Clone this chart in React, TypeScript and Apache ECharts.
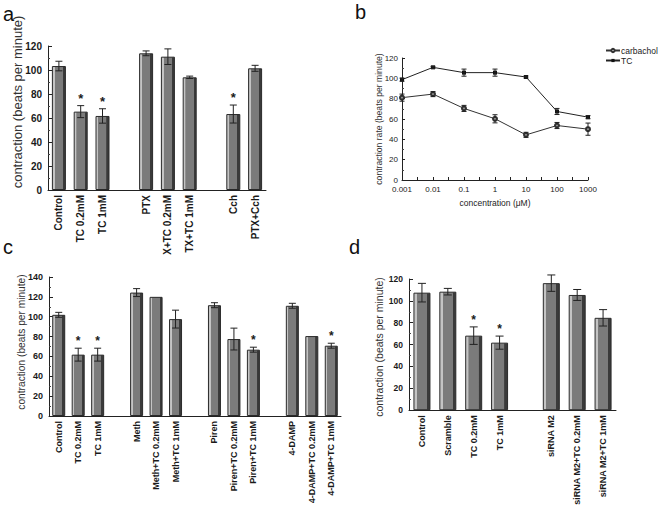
import React, { useEffect, useRef } from 'react';
import * as echarts from 'echarts';

// ---------- data ----------
const aCategories = ['Control', 'TC 0.2mM', 'TC 1mM', '', 'PTX', 'X+TC 0.2mM', 'TX+TC 1mM', '', 'Cch', 'PTX+Cch'];
const aValues = [103.3, 65.3, 61.7, null, 113.9, 111.1, 93.9, null, 63.3, 101.4];
const aErrors = [4, 5, 6, null, 2, 6.5, 1, null, 7.5, 2.5];
const aSignificant = [0, 1, 1, 0, 0, 0, 0, 0, 1, 0];

const bConcentrations = [0.001, 0.01, 0.1, 1, 10, 100, 1000];
const bCarbachol = [81, 84.5, 70.4, 60.2, 44.4, 53.6, 50];
const bCarbacholErr = [3.5, 2.5, 3, 4, 2.5, 3, 6];
const bTC = [98.7, 110.8, 105.6, 105.6, 101.3, 67.4, 61.8];
const bTCErr = [1.5, 1, 3.5, 3.5, 1, 3, 1.5];

const cCategories = ['Control', 'TC 0.2mM', 'TC 1mM', '', 'Meth', 'Meth+TC 0.2mM', 'Meth+TC 1mM', '', 'Piren', 'Piren+TC 0.2mM', 'Piren+TC 1mM', '', '4-DAMP', '4-DAMP+TC 0.2mM', '4-DAMP+TC 1mM'];
const cValues = [101.9, 61.8, 61.8, null, 124.3, 120, 97.6, null, 111.6, 77.5, 66.8, null, 111, 80.5, 70.8];
const cErrors = [2.5, 6.5, 6.5, null, 4, 0, 9, null, 2.5, 11, 2.5, null, 2.5, 0, 2.5];
const cSignificant = [0, 1, 1, 0, 0, 0, 0, 0, 0, 0, 1, 0, 0, 0, 1];

const dCategories = ['Control', 'Scramble', 'TC 0.2mM', 'TC 1mM', '', 'siRNA M2', 'siRNA M2+TC 0.2mM', 'siRNA M2+TC 1mM'];
const dValues = [107.5, 108.4, 68.2, 61.8, null, 116.2, 105.4, 84.5];
const dErrors = [8.5, 3, 8, 6, null, 7.5, 5, 7.5];
const dSignificant = [0, 0, 1, 1, 0, 0, 0, 0];

const yNameText = 'contraction (beats per minute)';
const bYNameText = 'contraction rate (beats per minute)';
const bXNameText = 'concentration (\u03bcM)';

const FONT = '"Liberation Sans", Arial, Helvetica, sans-serif';
const INK = '#1a1a1a';

function barFill() {
  return new echarts.graphic.LinearGradient(0, 0, 1, 0, [
    { offset: 0, color: '#c4c4c4' },
    { offset: 0.17, color: '#c4c4c4' },
    { offset: 0.18, color: '#7b7b7b' },
    { offset: 0.8, color: '#7b7b7b' },
    { offset: 0.81, color: '#3a3a3a' },
    { offset: 1, color: '#3a3a3a' },
  ]);
}

function errRender(capW: number, starSize: number) {
  return (params: any, api: any) => {
    const x = api.value(0);
    const v = api.value(1);
    const e = api.value(2);
    const s = api.value(3);
    const top = api.coord([x, v + e]);
    const bot = api.coord([x, v - e]);
    const st = { stroke: '#222', lineWidth: 1 };
    const children: any[] = [];
    if (e > 0) {
      children.push({ type: 'line', shape: { x1: top[0], y1: top[1], x2: bot[0], y2: bot[1] }, style: st });
      children.push({ type: 'line', shape: { x1: top[0] - capW / 2, y1: top[1], x2: top[0] + capW / 2, y2: top[1] }, style: st });
      children.push({ type: 'line', shape: { x1: bot[0] - capW / 2, y1: bot[1], x2: bot[0] + capW / 2, y2: bot[1] }, style: st });
    }
    if (s) {
      children.push({
        type: 'text',
        style: {
          text: '*', x: top[0], y: top[1] - 1, textAlign: 'center', textVerticalAlign: 'bottom',
          font: `bold ${starSize}px ${FONT}`, fill: INK,
        },
      });
    }
    return { type: 'group', children };
  };
}

function barPanel(idx: number, vals: (number | null)[], errs: (number | null)[], sig: number[], barW: number, capW: number, starSize: number) {
  return [
    {
      type: 'bar', xAxisIndex: idx, yAxisIndex: idx, barWidth: barW,
      data: vals.map((v) => (v == null ? '-' : v)),
      itemStyle: { color: barFill(), borderColor: '#2a2a2a', borderWidth: 1 },
      silent: true,
    },
    {
      type: 'custom', xAxisIndex: idx, yAxisIndex: idx,
      renderItem: errRender(capW, starSize),
      encode: { x: 0, y: 1 },
      data: vals.map((v, i) => (v == null ? null : [i, v, errs[i], sig[i]])).filter((d) => d != null),
      z: 5, silent: true,
    },
  ];
}

function catAxis(idx: number, cats: string[], fontSize: number) {
  return {
    type: 'category', gridIndex: idx, data: cats,
    axisLine: { show: true, lineStyle: { color: '#222', width: 1 } },
    axisTick: { show: false },
    axisLabel: { interval: 0, rotate: 90, margin: 5, fontSize, fontWeight: 'bold', fontFamily: FONT, color: INK },
    splitLine: { show: false },
  };
}

function valAxis(idx: number, max: number, fontSize: number) {
  return {
    type: 'value', gridIndex: idx, min: 0, max, interval: 20,
    axisLine: { show: true, lineStyle: { color: '#222', width: 1 } },
    axisTick: { show: true, inside: true, length: 4, lineStyle: { color: '#222' } },
    minorTick: { show: true, splitNumber: 2, length: 2, lineStyle: { color: '#444' } },
    axisLabel: { fontSize, fontWeight: 'bold', fontFamily: FONT, color: INK, margin: 6 },
    splitLine: { show: false },
  };
}

function vText(text: string, x: number, y: number, size: number) {
  return {
    type: 'text', x, y, rotation: Math.PI / 2,
    style: { text, textAlign: 'center', textVerticalAlign: 'middle', font: `${size}px ${FONT}`, fill: '#333' },
  };
}

function letter(text: string, x: number, y: number) {
  return { type: 'text', x, y, style: { text, textAlign: 'left', textVerticalAlign: 'bottom', font: `20px ${FONT}`, fill: '#111' } };
}

export default function App() {
  const ref = useRef<HTMLDivElement>(null);
  useEffect(() => {
    if (!ref.current) return;
    const chart = echarts.init(ref.current, null, { renderer: 'svg' });
    const fmtLog = (v: number) => String(parseFloat(v.toPrecision(6)));
    const option: any = {
      animation: false,
      backgroundColor: '#ffffff',
      grid: [
        { left: 48, top: 46, width: 218, height: 144 },
        { left: 402, top: 58, width: 186, height: 122 },
        { left: 49, top: 277, width: 292, height: 139 },
        { left: 409, top: 279, width: 207, height: 137 },
      ],
      xAxis: [
        catAxis(0, aCategories, 10),
        {
          type: 'log', gridIndex: 1, logBase: 10, min: 0.001, max: 1000, position: 'bottom',
          axisLine: { show: true, onZero: false, lineStyle: { color: '#222', width: 1 } },
          axisTick: { show: false },
          axisLabel: { fontSize: 8, fontFamily: FONT, color: '#222', margin: 5, formatter: fmtLog },
          splitLine: { show: false },
          name: bXNameText, nameLocation: 'middle', nameGap: 18,
          nameTextStyle: { fontSize: 8.5, fontFamily: FONT, color: '#222' },
        },
        catAxis(2, cCategories, 9),
        catAxis(3, dCategories, 9),
        {
          type: 'value', gridIndex: 1, min: -3, max: 3, interval: 0.5, position: 'bottom', offset: 0,
          axisLine: { show: false, onZero: false },
          axisTick: { show: true, inside: true, length: 3, lineStyle: { color: '#222' } },
          axisLabel: { show: false },
          splitLine: { show: false },
        },
      ],
      yAxis: [
        valAxis(0, 120, 10),
        {
          type: 'value', gridIndex: 1, min: 0, max: 120, interval: 20, position: 'left',
          axisLine: { show: true, onZero: false, lineStyle: { color: '#222', width: 1 } },
          axisTick: { show: true, inside: true, length: 3, lineStyle: { color: '#222' } },
          minorTick: { show: true, splitNumber: 2, length: 2, lineStyle: { color: '#444' } },
          axisLabel: { fontSize: 8, fontFamily: FONT, color: '#222', margin: 4 },
          splitLine: { show: false },
        },
        valAxis(2, 140, 9),
        valAxis(3, 120, 8.5),
      ],
      legend: {
        data: ['carbachol', 'TC'], orient: 'vertical', left: 603, top: 44,
        itemWidth: 14, itemHeight: 4, itemGap: 1, padding: 2,
        textStyle: { fontSize: 8.5, fontFamily: FONT, color: '#222', padding: [0, 0, 0, -4] },
      },
      series: [
        ...barPanel(0, aValues, aErrors, aSignificant, 14, 7, 13),
        ...barPanel(2, cValues, cErrors, cSignificant, 13, 7, 12),
        ...barPanel(3, dValues, dErrors, dSignificant, 17, 8, 12),
        {
          name: 'carbachol', type: 'line', xAxisIndex: 1, yAxisIndex: 1,
          data: bConcentrations.map((c, i) => [c, bCarbachol[i]]),
          symbol: 'emptyCircle', symbolSize: 4, showAllSymbol: true,
          lineStyle: { color: '#333', width: 1 }, itemStyle: { color: '#333', borderColor: '#333', borderWidth: 1 },
        },
        {
          name: 'TC', type: 'line', xAxisIndex: 1, yAxisIndex: 1,
          data: bConcentrations.map((c, i) => [c, bTC[i]]),
          symbol: 'rect', symbolSize: 4, showAllSymbol: true,
          lineStyle: { color: '#222', width: 1 }, itemStyle: { color: '#111' },
        },
        {
          type: 'custom', xAxisIndex: 1, yAxisIndex: 1, renderItem: errRender(5, 10), encode: { x: 0, y: 1 },
          data: bConcentrations.map((c, i) => [c, bCarbachol[i], bCarbacholErr[i], 0]), z: 5, silent: true,
        },
        {
          type: 'custom', xAxisIndex: 1, yAxisIndex: 1, renderItem: errRender(5, 10), encode: { x: 0, y: 1 },
          data: bConcentrations.map((c, i) => [c, bTC[i], bTCErr[i], 0]), z: 5, silent: true,
        },
      ],
      graphic: [
        vText(yNameText, 17, 102, 13),
        vText(bYNameText, 379, 119, 8.6),
        vText(yNameText, 21, 342, 10.2),
        vText(yNameText, 379, 347, 10.5),
        letter('a', 3, 24),
        letter('b', 355, 22),
        letter('c', 3, 257),
        letter('d', 349, 257),
      ],
    };
    chart.setOption(option);
    return () => chart.dispose();
  }, []);
  return <div ref={ref} style={{ position: 'fixed', left: 0, top: 0, width: 662, height: 508, background: '#fff' }} />;
}
